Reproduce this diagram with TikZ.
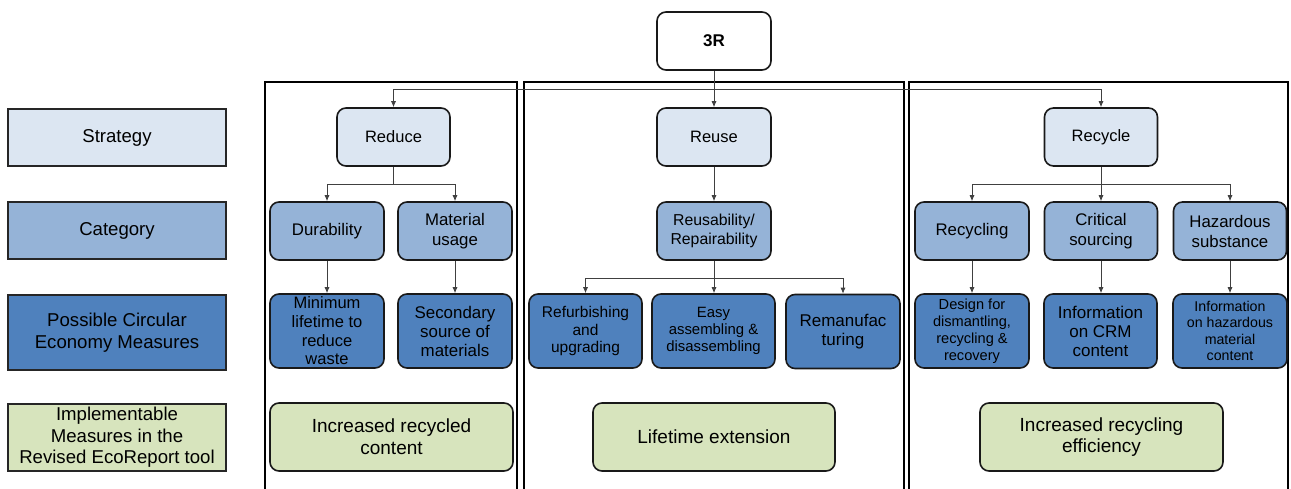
\documentclass[tikz,border=0pt]{standalone}
\usepackage{fontspec}
\setmainfont{Liberation Sans}
\usetikzlibrary{arrows.meta}
\definecolor{cStrat}{HTML}{DCE6F2}
\definecolor{cCat}{HTML}{95B3D7}
\definecolor{cMeas}{HTML}{4F81BD}
\definecolor{cImpl}{HTML}{D7E4BD}
\definecolor{cLine}{HTML}{404040}
\newcommand{\fs}[2]{\fontsize{#1}{#2}\selectfont}
\tikzset{
  lbl/.style={draw=black!85, line width=1.6pt, rectangle, inner sep=0pt, align=center, minimum width=218pt, font=\fs{18.6}{21.5}},
  rbox/.style={draw=black!90, line width=1.6pt, rounded corners=9pt, inner sep=0pt, align=center},
  strat/.style={rbox, fill=cStrat, minimum width=113pt, minimum height=58pt, font=\fs{16.5}{20}},
  cat/.style={rbox, fill=cCat, minimum width=114pt, minimum height=58pt, font=\fs{16.8}{20}},
  meas/.style={rbox, fill=cMeas, minimum height=74pt},
  impl/.style={rbox, fill=cImpl, minimum width=243pt, minimum height=68pt, font=\fs{19}{21.7}},
  frame/.style={draw=black, line width=1.3pt},
  conn/.style={draw=cLine, line width=0.8pt},
  arr/.style={conn, -{Latex[length=6pt,width=5pt]}},
}
\begin{document}
\begin{tikzpicture}[x=1pt,y=-1pt]
\useasboundingbox[fill=white] (0,0) rectangle (1291,489);
% frames
\draw[frame] (265,489) -- (265,82) -- (517,82) -- (517,489);
\draw[frame] (524,489) -- (524,82) -- (904,82) -- (904,489);
\draw[frame] (909,489) -- (909,82) -- (1288,82) -- (1288,489);
% left labels
\node[lbl, fill=cStrat, minimum height=57pt] (lS) at (117,137.5) {Strategy};
\node[lbl, fill=cCat, minimum height=57pt] (lC) at (117,230.5) {Category};
\node[lbl, fill=cMeas, minimum height=75pt] (lP) at (117,332.5) {Possible Circular\\Economy Measures};
\node[lbl, fill=cImpl, minimum height=67pt] (lI) at (117,437.5) {Implementable\\Measures in the\\Revised EcoReport tool};
% top
\node[rbox, fill=white, minimum width=114pt, minimum height=58pt, font=\fs{17}{20}\bfseries] (R3) at (714,41) {3R};
% strategy
\node[strat] (reduce) at (393.5,137) {Reduce};
\node[strat, minimum width=114pt] (reuse) at (714,137) {Reuse};
\node[strat] (recycle) at (1101,137) {Recycle};
% category
\node[cat] (dur) at (327,231) {Durability};
\node[cat] (mat) at (455,231) {Material\\usage};
\node[cat, font=\fs{15.8}{19}] (reus) at (714,231) {Reusability/\\Repairability};
\node[cat] (recyc) at (972,231) {Recycling};
\node[cat, minimum width=113pt] (crit) at (1101,231) {Critical\\sourcing};
\node[cat, minimum width=113pt] (haz) at (1230,231) {Hazardous\\substance};
% measures
\node[meas, minimum width=114pt, font=\fs{16.5}{18.7}] (mini) at (327,331) {Minimum\\lifetime to\\reduce\\waste};
\node[meas, minimum width=114pt, font=\fs{16.9}{19}] (sec) at (455,331) {Secondary\\source of\\materials};
\node[meas, minimum width=113pt, font=\fs{15.5}{17.5}] (refu) at (585.5,331) {Refurbishing\\and\\upgrading};
\node[meas, minimum width=123pt, font=\fs{14.9}{16.7}] (easy) at (713.5,331) {Easy\\assembling \&\\disassembling};
\node[meas, minimum width=114pt, font=\fs{17}{19}] (reman) at (843,331.5) {Remanufac\\turing};
\node[meas, minimum width=114pt, font=\fs{14.6}{17}] (design) at (972,331) {Design for\\dismantling,\\recycling \&\\recovery};
\node[meas, minimum width=113pt, font=\fs{17}{19}] (icrm) at (1100.5,331) {Information\\on CRM\\content};
\node[meas, minimum width=114pt, font=\fs{14.2}{16.5}] (ihaz) at (1230,331) {Information\\on hazardous\\material\\content};
% implementable
\node[impl] (inc1) at (391.5,437) {Increased recycled\\content};
\node[impl, minimum width=242pt] (life) at (714,437) {Lifetime extension};
\node[impl] (inc2) at (1101.5,437) {Increased recycling\\efficiency};
% connectors
\coordinate (bus) at (714,89);
\draw[arr] (R3.south) -- (reuse.north);
\draw[arr] (bus) -| (reduce.north);
\draw[arr] (bus) -| (recycle.north);
\coordinate (bRed) at (393.5,184);
\draw[conn] (reduce.south) -- (bRed);
\draw[arr] (bRed) -| (dur.north);
\draw[arr] (bRed) -| (mat.north);
\draw[arr] (reuse.south) -- (reus.north);
\coordinate (bRec) at (1101,184);
\draw[arr] (recycle.south) -- (crit.north);
\draw[arr] (bRec) -| (recyc.north);
\draw[arr] (bRec) -| (haz.north);
\draw[arr] (dur.south) -- (mini.north);
\draw[arr] (mat.south) -- (sec.north);
\coordinate (bReu) at (714,278);
\draw[arr] (reus.south) -- (reus.south |- easy.north);
\draw[arr] (bReu) -| (refu.north);
\draw[arr] (bReu) -| (reman.north);
\draw[arr] (recyc.south) -- (design.north);
\draw[arr] (crit.south) -- (crit.south |- icrm.north);
\draw[arr] (haz.south) -- (ihaz.north);
\end{tikzpicture}
\end{document}
